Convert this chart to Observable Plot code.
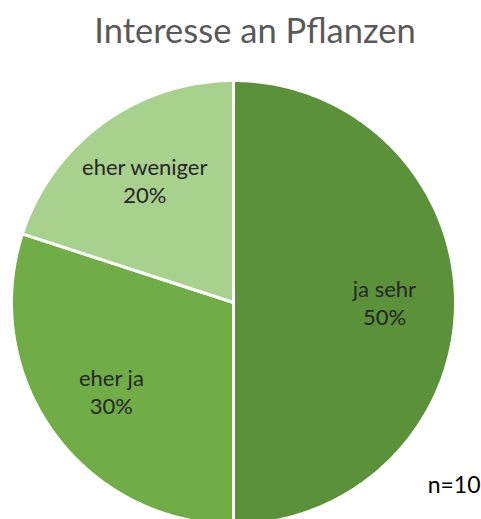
<!DOCTYPE html>
<html>
<head>
<meta charset="utf-8">
<script src="https://cdn.jsdelivr.net/npm/d3@7"></script>
<script src="https://cdn.jsdelivr.net/npm/@observablehq/plot@0.6"></script>
<style>
  html, body { margin: 0; padding: 0; background: #fff; }
  svg { overflow: hidden; }
</style>
</head>
<body>
<div id="chart"></div>
<script>
const title = "Interesse an Pflanzen";
const note = "n=10";
const categories = ["ja sehr", "eher ja", "eher weniger"];
const shares = [50, 30, 20];
const colors = ["#5b9139", "#70ad47", "#a9d18e"];

// pie layout (clockwise from 12 o'clock)
const total = d3.sum(shares);
let acc = 0;
const slices = categories.map((c, i) => {
  const a0 = acc / total * 2 * Math.PI;
  acc += shares[i];
  const a1 = acc / total * 2 * Math.PI;
  return {category: c, value: shares[i], a0, a1};
});

// polygon points for each slice in unit-circle data space
const polyPts = [];
for (const s of slices) {
  polyPts.push({category: s.category, px: 0, py: 0});
  const n = Math.max(2, Math.ceil((s.a1 - s.a0) / (Math.PI / 180)));
  for (let k = 0; k <= n; k++) {
    const a = s.a0 + (s.a1 - s.a0) * k / n;
    polyPts.push({category: s.category, px: Math.sin(a), py: Math.cos(a)});
  }
}

const labelR = 0.68;
const labels = slices.map(s => {
  const m = (s.a0 + s.a1) / 2;
  return {text: `${s.category}\n${s.value}%`, lx: labelR * Math.sin(m), ly: labelR * Math.cos(m)};
});

const font = "Lato, 'Open Sans', sans-serif";

const chart = Plot.plot({
  width: 481,
  height: 519,
  margin: 0,
  style: {background: "#fff", overflow: "hidden"},
  x: {domain: [-1, 1], range: [11, 455], axis: null},
  y: {domain: [-1, 1], range: [524, 80], axis: null},
  color: {domain: categories, range: colors},
  marks: [
    Plot.line(polyPts, {
      x: "px", y: "py", z: "category",
      fill: "category", stroke: "#fff", strokeWidth: 3,
      strokeLinejoin: "miter", curve: "linear-closed"
    }),
    Plot.text(labels, {
      x: "lx", y: "ly", text: "text",
      fontSize: 22, fontFamily: font,
      fill: "#262626", lineHeight: 1.27
    }),
    Plot.text([title], {
      frameAnchor: "top", dx: 14, dy: 17.5,
      fontSize: 34.5, fontFamily: font,
      fill: "#595959", lineAnchor: "top"
    }),
    Plot.text([note], {
      frameAnchor: "bottom-right", dx: -1, dy: -27,
      fontSize: 23, fontFamily: font,
      fill: "#000", textAnchor: "end", lineAnchor: "bottom"
    })
  ]
});
document.getElementById("chart").appendChild(chart);
</script>
</body>
</html>
